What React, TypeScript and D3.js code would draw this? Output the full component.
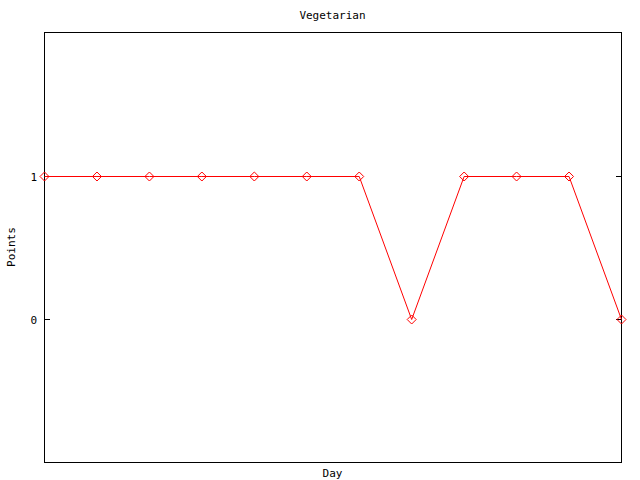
import React from "react";
import * as d3 from "d3";

const title = "Vegetarian";
const xLabel = "Day";
const yLabel = "Points";
const days = [1, 2, 3, 4, 5, 6, 7, 8, 9, 10, 11, 12];
const points = [1, 1, 1, 1, 1, 1, 1, 0, 1, 1, 1, 0];
const yTicks = [0, 1];

export default function App() {
  const W = 640, H = 480;
  const left = 44, right = 621, top = 32, bottom = 462;
  const x = d3.scaleLinear().domain([1, 12]).range([left + 0.5, right + 0.5]);
  const y = d3.scaleLinear().domain([-1, 2]).range([bottom + 0.5, top + 1.5]);
  const line = d3.line<number>().x((_, i) => x(days[i])).y((d) => y(d));
  const font = "'DejaVu Sans Mono', monospace";
  const fs = 11;
  return (
    <svg width={W} height={H} style={{ position: "absolute", left: 0, top: 0, background: "#fff" }}>
      <rect x={0} y={0} width={W} height={H} fill="#fff" />
      <text x={(left + right) / 2} y={19} textAnchor="middle" fontFamily={font} fontSize={fs} fill="#000">{title}</text>
      <rect x={left + 0.5} y={top + 0.5} width={right - left} height={bottom - top} fill="none" stroke="#000" strokeWidth={1} shapeRendering="crispEdges" />
      {yTicks.map((t) => (
        <g key={t}>
          <line x1={left} x2={left + 6} y1={y(t)} y2={y(t)} stroke="#000" shapeRendering="crispEdges" />
          <line x1={right + 1} x2={right - 5} y1={y(t)} y2={y(t)} stroke="#000" shapeRendering="crispEdges" />
          <text x={37} y={y(t) + 4} textAnchor="end" fontFamily={font} fontSize={fs} fill="#000">{t}</text>
        </g>
      ))}
      <text transform={`translate(15, ${(top + bottom) / 2}) rotate(-90)`} textAnchor="middle" fontFamily={font} fontSize={fs} fill="#000">{yLabel}</text>
      <text x={(left + right) / 2} y={477} textAnchor="middle" fontFamily={font} fontSize={fs} fill="#000">{xLabel}</text>
      <path d={line(points) || ""} fill="none" stroke="#ff0000" strokeWidth={1} />
      {points.map((p, i) => {
        const cx = x(days[i]), cy = y(p), r = 4.5;
        return (
          <path key={i} d={`M${cx},${cy - r}L${cx + r},${cy}L${cx},${cy + r}L${cx - r},${cy}Z`} fill="none" stroke="#ff0000" strokeWidth={1} />
        );
      })}
    </svg>
  );
}
